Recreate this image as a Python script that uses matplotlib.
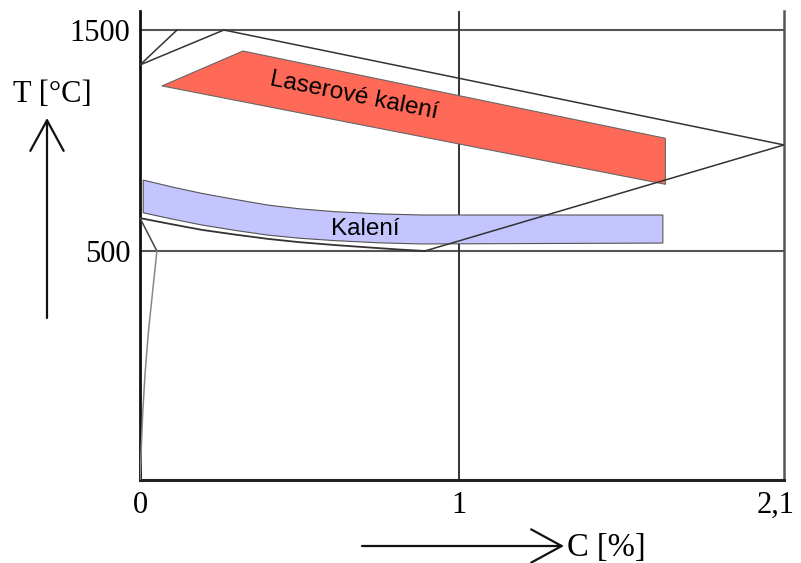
import numpy as np
import matplotlib.pyplot as plt
from matplotlib.patches import Polygon

# Schematic Fe-C diagram with hardening ranges (C in %, T in °C)
c_max = 2.02                      # position of the 2,1 % line in the sketch
c_ticks = [0, 1, 1.995]
c_tick_labels = ['0', '1', '2,1']
t_ticks = [500, 1500]
t_tick_labels = ['500', '1500']

# phase boundary lines
delta_c = [0, 0.116]
delta_t = [1342, 1500]
gamma_c = [0, 0.263, c_max, 0.893]
gamma_t = [1342, 1500, 980, 500]
a3_c = [0, 0.1, 0.193, 0.3, 0.401, 0.5, 0.611, 0.7, 0.8, 0.893]
a3_t = [649, 621, 596, 574, 555, 540, 527, 518, 508, 500]
a2_c = [0, 0.053]
a2_t = [649, 500]
solv_c = [0.053, 0.040, 0.026, 0.016, 0.0085, 0.003, 0]
solv_t = [500, 323, 129, -52, -233, -432, -536]

# laser hardening range
laser_c = [0.069, 0.323, 1.648, 1.648]
laser_t = [1247, 1405, 1010, 802]

# conventional hardening range
kal_top_c = [0.010, 0.1, 0.193, 0.3, 0.401, 0.5, 0.611, 0.75, 0.883, 1.640]
kal_top_t = [821, 790, 761, 733, 708, 691, 678, 668, 663, 663]
kal_bot_c = [1.640, 0.883, 0.75, 0.611, 0.5, 0.401, 0.3, 0.193, 0.1, 0.010]
kal_bot_t = [536, 532, 537, 547, 558, 572, 593, 618, 645, 673]

W, H = 801, 563
fig = plt.figure(figsize=(W / 100, H / 100), dpi=100)
ax = fig.add_axes([140 / W, (H - 480) / H, 644 / W, 469 / H])
ax.set_xlim(0, c_max)
ax.set_ylim(-536, 1586)

# grid-like lines
ax.axhline(500, color='#555555', lw=1.5, zorder=1)
ax.axhline(1500, color='#555555', lw=1.5, zorder=1)
ax.axvline(1, color='#333333', lw=1.4, zorder=1)

# filled ranges
ax.add_patch(Polygon(np.column_stack([laser_c, laser_t]), closed=True,
                     facecolor='#ff6a58', edgecolor='#666666', lw=0.8, zorder=2))
ax.add_patch(Polygon(np.column_stack([kal_top_c + kal_bot_c, kal_top_t + kal_bot_t]),
                     closed=True, facecolor='#c4c4ff', edgecolor='#555555',
                     lw=0.8, zorder=2))

# phase lines
ax.plot(delta_c, delta_t, color='#333333', lw=1.1, zorder=3)
ax.plot(gamma_c, gamma_t, color='#333333', lw=1.1, zorder=3)
ax.plot(a3_c, a3_t, color='#333333', lw=1.3, zorder=3)
ax.plot(a2_c, a2_t, color='#444444', lw=1.1, zorder=3)
ax.plot(solv_c, solv_t, color='#888888', lw=1.1, zorder=3)

ax.text(0.67, 1203, 'Laserové kalení', family='Liberation Sans', fontsize=17.5,
        rotation=-11.3, ha='center', va='center', rotation_mode='anchor', zorder=4)
ax.text(0.706, 600, 'Kalení', family='Liberation Sans', fontsize=17.5,
        ha='center', va='center', zorder=4)

# axes frame
ax.spines['top'].set_visible(False)
ax.spines['left'].set_linewidth(2)
ax.spines['left'].set_color('#111111')
ax.spines['bottom'].set_linewidth(2.2)
ax.spines['bottom'].set_color('#222222')
ax.spines['right'].set_linewidth(1.8)
ax.spines['right'].set_color('#555555')

ax.set_xticks(c_ticks, c_tick_labels, family='Liberation Serif', fontsize=22)
ax.set_yticks(t_ticks, t_tick_labels, family='Liberation Serif', fontsize=22)
ax.tick_params(axis='x', length=0, pad=8)
ax.tick_params(axis='y', length=0, pad=7)

# axis titles with arrows
fig.text(52 / W, 1 - 95 / H, 'T [°C]', family='Liberation Serif', fontsize=22,
         ha='center', va='center')
fig.text(567 / W, 1 - 548 / H, 'C [%]', family='Liberation Serif', fontsize=23.5,
         ha='left', va='center')
arrow = dict(arrowstyle='->,head_length=2.2,head_width=1.2', lw=1.6, color='#111111',
             shrinkA=0, shrinkB=0)
ax.annotate('', xy=(47, H - 118), xytext=(47, H - 318), xycoords='figure pixels',
            textcoords='figure pixels', arrowprops=arrow, annotation_clip=False)
ax.annotate('', xy=(564, H - 546), xytext=(362, H - 546), xycoords='figure pixels',
            textcoords='figure pixels', arrowprops=arrow, annotation_clip=False)

fig.savefig('out.png', dpi=100)
